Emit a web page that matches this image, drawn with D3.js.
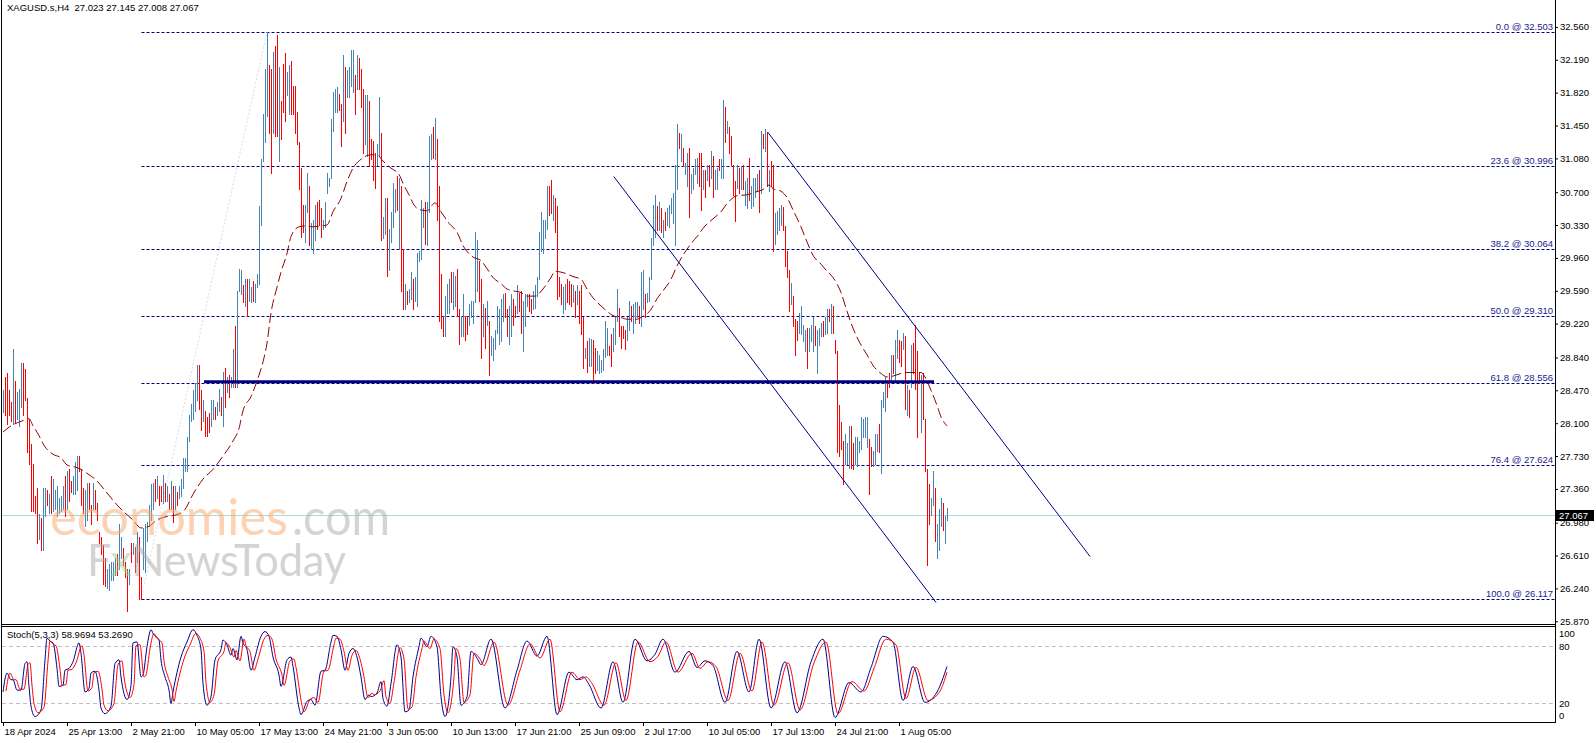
<!DOCTYPE html>
<html><head><meta charset="utf-8">
<script src="https://cdn.jsdelivr.net/npm/d3@7"></script>
<style>
html,body{margin:0;padding:0;background:#fff;}
svg{display:block;}
</style></head><body>
<svg id="c" width="1596" height="743"></svg>
<script>
// ---------------- DATA ----------------
const symbolHeader = "XAGUSD.s,H4  27.023 27.145 27.008 27.067";
const stochTitle = "Stoch(5,3,3) 58.9694 53.2690";
const lastPrice = 27.067;

const highs = [
28.47,28.62,28.66,28.47,28.34,28.93,28.57,28.45,28.49,28.78,
28.78,28.71,28.38,28.15,27.86,27.64,27.28,27.37,27.08,27.03,
27.37,27.37,27.35,27.30,27.50,27.47,27.35,27.39,27.26,27.28,
27.39,27.50,27.56,27.58,27.45,27.50,27.66,27.73,27.73,27.58,
27.37,27.35,27.43,27.43,27.18,27.43,27.35,27.20,26.88,26.82,
26.73,26.58,26.46,26.52,26.54,26.54,26.58,26.63,26.97,26.82,
26.69,26.54,26.46,26.46,26.75,26.75,26.71,26.88,26.82,26.37,
26.92,26.97,26.99,27.18,27.41,27.43,27.47,27.50,27.39,27.39,
27.52,27.43,27.39,27.30,27.45,27.39,27.39,27.33,27.39,27.47,
27.71,27.71,27.94,28.19,28.32,28.47,28.55,28.75,28.75,28.47,
28.36,28.24,28.17,28.21,28.36,28.36,28.28,28.34,28.49,28.40,
28.68,28.72,28.62,28.64,28.62,28.93,29.19,29.59,29.84,29.82,
29.65,29.72,29.72,29.72,29.63,29.70,29.67,29.78,30.54,31.07,
31.58,32.09,32.50,32.13,32.09,32.28,32.34,32.47,32.11,31.73,
32.14,32.27,32.05,32.13,32.18,31.90,31.90,31.60,31.26,30.97,
30.56,30.56,30.92,30.77,30.35,30.39,30.56,30.59,30.61,
30.52,30.39,30.59,30.92,30.86,31.52,31.83,31.86,31.88,31.81,
31.69,32.24,32.11,32.07,32.11,32.30,32.30,32.02,32.24,32.21,
32.09,31.86,31.79,31.79,31.73,31.30,31.28,31.14,31.24,31.77,
31.37,30.42,30.63,30.63,30.29,30.48,30.80,30.73,30.88,30.86,
30.77,30.06,29.67,29.59,29.61,29.80,29.72,29.74,30.01,30.04,
30.61,30.52,30.59,30.59,31.33,31.35,31.43,31.54,31.30,30.77,
29.78,29.31,29.53,29.67,29.72,29.80,29.80,29.76,29.84,29.38,
29.29,29.55,29.31,29.31,29.44,29.48,29.48,30.25,30.16,29.93,
29.72,29.44,29.40,29.48,29.25,29.08,29.06,29.15,29.42,29.38,
29.50,29.55,29.57,29.38,29.42,29.55,29.50,29.42,29.65,29.57,
29.59,29.48,29.55,29.55,29.55,29.50,29.59,29.65,29.74,30.25,
30.48,30.39,30.39,30.77,30.77,30.84,30.67,30.63,30.54,29.74,
29.67,29.63,29.67,29.72,29.70,29.67,29.65,29.59,29.65,29.59,
29.65,29.29,28.95,29.02,29.06,29.05,29.04,28.95,28.91,28.87,
28.81,28.93,29.25,29.17,28.97,29.10,29.17,29.31,29.61,29.40,
29.19,29.19,29.15,29.29,29.47,29.42,29.44,29.46,29.46,29.42,
29.80,29.82,29.55,29.57,29.74,30.18,30.56,30.67,30.54,30.59,
30.52,30.39,30.48,30.52,30.56,30.63,30.69,31.01,31.47,31.37,
31.35,31.20,31.03,31.14,31.20,30.90,30.97,31.07,31.09,31.14,
31.14,30.95,30.95,31.01,31.01,31.16,31.11,30.95,30.97,31.07,
31.07,31.74,31.66,31.50,31.43,31.33,31.01,30.82,31.01,30.97,
30.99,31.01,30.82,30.86,31.08,30.77,30.86,30.86,30.90,30.95,
31.39,31.35,31.41,31.38,30.95,31.05,31.01,30.46,30.49,30.52,
30.56,30.53,30.32,30.04,29.82,29.68,29.53,29.27,29.25,29.34,
29.42,29.21,29.15,29.17,29.17,29.21,29.29,29.19,29.15,29.17,
29.23,29.25,29.29,29.38,29.38,29.44,29.42,29.04,28.91,28.30,
28.11,27.90,27.98,27.88,28.07,28.07,27.88,27.94,27.94,27.90,
28.17,28.15,28.17,28.17,27.92,27.83,27.79,27.98,27.98,28.09,
28.36,28.45,28.62,28.57,28.66,28.87,28.87,29.04,29.15,29.04,
29.02,29.12,29.08,28.53,28.47,28.98,29.00,29.21,28.91,28.68,
28.64,28.66,28.15,27.58,27.41,27.26,27.56,27.37,26.97,27.13,
27.26,27.20,27.05,27.145];

const lows = [
28.23,28.19,28.09,28.19,28.13,28.09,28.11,28.15,28.07,28.28,
28.19,28.36,27.77,27.64,27.11,27.11,27.09,26.75,26.80,26.67,
26.67,27.05,27.18,27.09,27.09,27.11,27.13,27.05,27.09,27.11,
27.13,27.05,27.13,27.22,27.33,27.30,27.30,27.35,27.56,27.18,
27.09,26.94,27.01,27.13,26.97,27.13,27.13,27.01,26.75,26.63,
26.29,26.27,26.25,26.22,26.33,26.33,26.39,26.39,26.46,26.58,
26.50,26.37,25.99,26.29,26.54,26.63,26.42,26.54,26.12,26.12,
26.46,26.42,26.77,26.94,27.01,27.13,27.22,27.26,27.18,27.22,
27.20,27.22,27.22,27.13,27.13,26.99,27.13,27.18,27.26,27.28,
27.37,27.56,27.56,27.90,28.13,28.15,28.24,28.36,28.26,28.02,
28.13,27.96,27.96,28.00,28.07,28.15,28.15,28.19,28.24,28.19,
28.07,28.28,28.45,28.40,28.51,28.51,28.51,28.51,29.59,29.55,
29.46,29.42,29.31,29.48,29.46,29.48,29.46,29.63,29.67,30.33,
31.05,31.26,31.56,31.37,30.92,31.37,31.33,31.33,31.05,31.30,
31.60,31.50,31.79,31.58,31.58,31.58,31.37,31.24,30.73,30.20,
30.25,30.14,30.48,30.10,30.06,30.01,30.16,30.29,30.33,
30.20,30.29,30.31,30.69,30.77,30.86,31.39,31.60,31.60,31.62,
31.22,31.50,31.37,31.77,31.77,31.90,31.83,31.58,31.86,31.86,
31.66,31.14,31.24,31.11,30.99,31.07,30.84,30.75,31.01,31.11,
30.16,30.18,30.23,29.76,29.82,30.14,30.31,30.48,30.50,30.06,
29.59,29.38,29.38,29.44,29.46,29.50,29.38,29.48,29.42,29.93,
29.95,30.31,30.12,30.10,30.48,31.07,31.09,31.07,30.39,29.25,
29.17,29.08,29.08,29.34,29.34,29.46,29.38,29.42,29.31,28.99,
29.08,29.08,29.04,29.10,29.21,29.29,29.23,29.46,29.59,29.48,
28.83,29.08,28.95,29.21,28.64,28.87,28.81,28.93,29.12,28.99,
29.02,29.25,29.29,29.08,28.99,29.08,29.21,29.29,29.34,29.36,
29.12,28.91,29.19,29.42,29.36,29.34,29.38,29.40,29.53,29.72,
30.04,30.01,30.18,30.29,30.44,30.46,30.39,30.25,29.50,29.53,
29.44,29.34,29.38,29.46,29.44,29.42,29.46,29.29,29.44,29.23,
29.10,28.72,28.83,28.68,28.74,28.74,28.55,28.66,28.70,28.66,
28.68,28.70,28.85,28.87,28.87,28.74,28.91,28.99,29.25,29.08,
28.95,29.06,28.93,29.04,29.15,29.25,29.12,29.23,29.29,29.23,
29.19,29.38,29.29,29.46,29.48,29.72,30.10,30.20,30.27,30.27,
30.25,30.20,30.27,30.33,30.31,30.46,30.35,30.10,30.73,31.20,
31.05,30.99,30.90,30.77,30.42,30.69,30.73,30.90,30.80,30.77,
30.50,30.73,30.65,30.84,30.77,30.86,30.65,30.73,30.73,30.95,
30.86,30.86,31.26,31.37,31.14,31.01,30.67,30.37,30.75,30.69,
30.73,30.73,30.56,30.52,30.61,30.52,30.54,30.65,30.71,30.48,
30.69,31.20,31.16,30.77,30.71,30.77,30.04,30.12,30.23,30.27,
30.33,30.27,29.87,29.74,29.36,29.44,29.19,28.87,29.04,29.12,
29.10,29.02,28.91,28.72,28.91,29.02,28.91,28.98,28.66,28.98,
29.08,29.08,29.10,29.12,29.25,29.12,29.12,28.89,27.77,27.73,
27.81,27.41,27.64,27.64,27.60,27.60,27.58,27.64,27.62,27.77,
27.81,27.94,27.94,27.83,27.30,27.62,27.62,27.64,27.79,27.77,
27.54,28.28,28.24,28.40,28.51,28.57,28.66,28.57,28.83,28.79,
28.74,28.93,28.26,28.19,28.17,28.51,28.66,28.49,27.94,28.55,
28.00,28.15,27.56,26.50,26.97,27.07,27.18,26.77,26.58,26.67,
26.94,26.90,26.75,27.008];

// 1 = bullish bar (blue), 0 = bearish bar (red)
const ups = [
1,0,0,0,0,1,0,1,1,1, 0,0,0,0,0,0,0,0,1,0, 1,1,0,1,0,1,1,1,1,1, 1,0,1,0,0,1,1,1,0,0,
0,1,1,0,0,1,0,0,0,0, 0,0,1,1,1,1,1,0,1,1, 0,0,0,1,0,1,0,1,0,0, 1,1,1,1,1,1,0,1,0,0,
1,0,1,0,1,0,1,0,1,1, 1,1,1,1,1,1,1,1,0,0, 1,0,0,0,1,1,0,1,1,0, 1,0,1,0,1,1,0,1,1,1,
0,1,0,1,1,0,1,1,1,1, 1,1,1,0,0,1,0,0,1,0, 0,0,1,1,0,0,0,0,0,0, 0,1,1,0,1,1,1,0,0,
0,1,1,1,1,1,1,1,1,0, 0,1,0,1,1,1,1,0,1,0, 0,0,1,1,0,0,0,0,1,1, 0,1,1,0,1,1,1,1,0,1,
0,0,1,0,1,1,0,1,1,1, 1,1,0,1,1,1,0,1,0,0, 0,0,1,1,1,0,1,1,0,0, 1,1,0,0,1,1,1,1,1,0,
0,1,0,1,0,1,1,1,1,1, 1,1,0,0,1,1,0,0,1,0, 0,1,1,1,0,0,1,1,1,1, 1,1,1,1,0,0,1,0,0,0,
0,1,1,0,0,0,1,0,1,0, 0,0,1,0,1,1,0,0,1,1, 1,1,1,1,0,0,1,1,1,0, 0,0,0,1,1,0,1,1,1,0,
1,1,0,1,1,1,1,1,0,1, 0,1,0,1,1,1,1,1,1,0, 1,0,1,1,0,1,1,1,1,0, 0,1,0,1,0,1,0,1,1,0,
1,1,0,1,0,0,0,0,1,0, 1,0,1,1,0,1,1,1,1,0, 1,0,1,0,1,0,0,1,1,1, 1,0,0,0,0,1,0,0,0,1,
1,1,1,0,1,1,1,0,1,1, 1,0,1,1,0,1,0,0,0,0, 0,0,1,1,1,0,0,1,1,1, 1,1,1,1,0,0,1,1,1,0,
1,1,1,0,0,1,0,1,1,0, 0,1,0,1,0,1,0,0,0,0, 1,0,0,0,0,1,1,0,1,1, 1,0,1,1];

// Moving average (bar index, price)
const maBars = [0,4,9,13,15,18,20,25,29,32,37,39,43,47,50,54,57,60,65,69,73,77,82,87,91,95,100,105,110,115,118,120,124,128,130,132,134,137,139,142,144,148,151,155,159,162,165,169,172,175,179,184,187,190,194,198,200,203,206,209,212,216,219,223,227,230,235,239,242,245,249,252,255,259,262,266,270,274,276,279,282,285,289,292,295,299,302,305,309,312,317,319,324,327,330,334,337,340,344,347,351,355,359,362,367,372,376,380,383,385,389,392,395,399,402,405,409,412,415,419,422,425,429,432,435,439,442,445,449,452,455,459,461,464,467,469,472];
const maValues = [28.00,28.07,28.12,28.15,28.07,27.96,27.87,27.75,27.71,27.63,27.60,27.58,27.52,27.45,27.37,27.26,27.18,27.11,27.01,26.92,26.94,27.01,27.05,27.07,27.13,27.30,27.47,27.58,27.73,27.90,28.04,28.24,28.40,28.64,28.79,29.00,29.34,29.63,29.80,30.01,30.20,30.31,30.32,30.31,30.32,30.33,30.48,30.63,30.82,30.97,31.07,31.12,31.12,31.05,30.97,30.90,30.80,30.67,30.54,30.50,30.49,30.58,30.48,30.35,30.25,30.10,29.97,29.93,29.84,29.74,29.67,29.61,29.59,29.57,29.53,29.53,29.61,29.74,29.81,29.80,29.78,29.75,29.72,29.61,29.51,29.42,29.36,29.31,29.29,29.27,29.27,29.29,29.38,29.50,29.59,29.72,29.87,29.99,30.12,30.20,30.32,30.40,30.48,30.57,30.66,30.67,30.70,30.73,30.78,30.74,30.71,30.64,30.50,30.31,30.14,29.99,29.89,29.81,29.74,29.57,29.36,29.17,28.98,28.87,28.75,28.66,28.62,28.63,28.66,28.67,28.67,28.67,28.62,28.47,28.30,28.17,28.07];

// Stochastic (5,3,3) main line (%K, blue) (bar index, value)
const stochKBars = [0,2,4,5,7,9,11,12,13,14,16,19,21,22,24,25,27,28,30,31,33,35,38,39,41,43,44,46,48,49,51,54,56,58,59,62,64,65,67,69,70,72,74,75,78,79,81,83,84,85,89,92,95,97,99,100,102,104,106,109,110,112,114,115,117,119,120,122,124,126,129,131,133,135,138,139,142,144,145,148,149,152,154,156,159,161,164,165,167,169,171,173,175,177,179,181,183,184,187,189,190,192,194,197,199,201,203,205,208,209,212,214,217,219,221,224,225,227,229,232,234,237,239,
244,251,257,262,267,272,277,283,287,290,293,299,305,310,316,322,326,330,336,343,347,351,355,361,367,373,378,384,391,397,404,410,416,423,429,434,440,445,450,455,461,467,472];
const stochKValues = [32,52,45,45,34,34,62,64,38,17,6,13,66,89,85,84,57,38,39,55,57,64,84,73,32,36,52,54,34,15,9,17,62,66,48,24,39,84,85,48,50,80,98,94,87,66,48,34,20,32,69,85,98,92,77,41,18,27,66,77,87,82,71,78,66,91,84,77,55,69,91,96,91,69,50,38,66,69,59,15,8,22,24,18,54,55,85,92,91,77,55,73,78,69,48,24,29,27,31,43,25,17,41,82,69,11,13,48,80,89,80,91,80,27,6,48,80,69,18,27,75,68,61,
88,15,55,86,70,91,8,53,45,48,40,15,64,21,88,65,72,88,53,75,58,65,60,21,75,32,88,15,64,10,64,88,5,42,32,58,91,85,23,59,21,32,59];
// signal line (%D, red) (bar index, value)
const stochDBars = [1.5,3.5,5.5,6.5,8.5,10.5,12.5,13.5,14.5,15.5,17.5,20.5,22.5,23.5,25.5,26.5,28.5,29.5,31.5,32.5,34.5,36.5,39.5,40.5,42.5,44.5,45.5,47.5,49.5,50.5,52.5,55.5,57.5,59.5,60.5,63.5,65.5,66.5,68.5,70.5,71.5,73.5,75.5,76.5,79.5,80.5,82.5,84.5,85.5,86.5,90.5,93.5,96.5,98.5,100.5,101.5,103.5,105.5,107.5,110.5,111.5,113.5,115.5,116.5,118.5,120.5,121.5,123.5,125.5,127.5,130.5,132.5,134.5,136.5,139.5,140.5,143.5,145.5,146.5,149.5,150.5,153.5,155.5,157.5,160.5,162.5,165.5,166.5,168.5,170.5,172.5,174.5,176.5,178.5,180.5,182.5,184.5,185.5,188.5,190.5,191.5,193.5,195.5,198.5,200.5,202.5,204.5,206.5,209.5,210.5,213.5,215.5,218.5,220.5,222.5,225.5,226.5,228.5,230.5,233.5,235.5,238.5,240.5,
245.5,252.5,258.5,263.5,268.5,273.5,278.5,284.5,288.5,291.5,294.5,300.5,306.5,311.5,317.5,323.5,327.5,331.5,337.5,344.5,348.5,352.5,356.5,362.5,368.5,374.5,379.5,385.5,392.5,398.5,405.5,411.5,417.5,424.5,430.5,435.5,441.5,446.5,451.5,456.5,462.5,468.5,472];
const stochDValues = [33,52,45,45,35,35,61,63,39,20,10,16,65,86,82,81,56,39,40,55,56,63,81,71,33,37,52,54,35,18,12,20,61,65,48,26,40,81,82,48,50,78,94,90,84,65,48,35,22,33,67,82,94,89,75,42,21,29,65,75,84,79,69,76,65,88,81,75,55,67,88,92,88,67,50,39,65,67,58,18,11,24,26,21,54,55,82,89,88,75,55,71,76,67,48,26,31,29,33,44,27,20,42,79,67,14,16,48,78,86,78,88,78,29,10,48,78,67,21,29,73,67,60,
85,18,55,83,68,88,11,53,45,48,41,18,63,23,85,64,70,85,53,73,57,64,59,23,73,33,85,18,63,13,63,85,9,43,33,57,88,82,25,58,23,33,53];
const stochLevels = [20, 80];
const stochLabels = ["100", "80", "20", "0"];

const fibRatios = ["0.0", "23.6", "38.2", "50.0", "61.8", "76.4", "100.0"];
const fibPrices = [32.503, 30.996, 30.064, 29.310, 28.556, 27.624, 26.117];
const fibLowBar = 69, fibHighBar = 132;
const supportPrice = 28.565, supportFromBar = 100.5, supportToBar = 465.5;
const channelLowerBars = [305.4, 466.5], channelLowerPrices = [30.876, 26.083];
const channelUpperBars = [382.35, 543.6], channelUpperPrices = [31.376, 26.597];

const priceTicks = [32.560,32.190,31.820,31.450,31.080,30.700,30.330,29.960,29.590,29.220,28.840,28.470,28.100,27.730,27.360,26.980,26.610,26.240,25.870];
const timeTickBars = [0,32,64,96,128,160,192,224,256,288,320,352,384,416,448];
const timeTickLabels = ["18 Apr 2024","25 Apr 13:00","2 May 21:00","10 May 05:00","17 May 13:00","24 May 21:00","3 Jun 05:00","10 Jun 13:00","17 Jun 21:00","25 Jun 09:00","2 Jul 17:00","10 Jul 05:00","17 Jul 13:00","24 Jul 21:00","1 Aug 05:00"];

// ---------------- DRAW ----------------
const FONT = "'Liberation Sans', Arial, sans-serif";
const FS = 9.5;
const svg = d3.select("#c").style("font-family", FONT);
const defs = svg.append("defs");
defs.append("clipPath").attr("id","mainClip").append("rect").attr("x",2).attr("y",0).attr("width",1553).attr("height",624);
defs.append("clipPath").attr("id","stochClip").append("rect").attr("x",2).attr("y",627).attr("width",1553).attr("height",95);

const x = d3.scaleLinear().domain([0, 776]).range([3, 1555]);
const y = d3.scaleLinear().domain([25.87, 32.56]).range([621.3, 26.9]);
const ys = d3.scaleLinear().domain([0, 100]).range([722.2, 627.8]);
const px = i => Math.round(x(i)) + 0.5;
const py = v => Math.round(y(v)) + 0.5;

svg.append("rect").attr("width",1596).attr("height",743).attr("fill","#fff");

const main = svg.append("g").attr("clip-path","url(#mainClip)");

// current price line
main.append("line").attr("x1",2).attr("x2",1555).attr("y1",py(lastPrice)).attr("y2",py(lastPrice))
  .attr("stroke","#aadadf").attr("stroke-width",1);

// fibonacci trend line
main.append("line").attr("x1",x(fibLowBar)).attr("y1",y(fibPrices[6])).attr("x2",x(fibHighBar)).attr("y2",y(fibPrices[0]))
  .attr("stroke","#d9d9f3").attr("stroke-width",1).attr("stroke-dasharray","2,2");

// fibonacci levels
main.selectAll("line.fib").data(fibPrices).join("line").attr("class","fib")
  .attr("x1",px(fibLowBar)).attr("x2",1555).attr("y1",d=>py(d)).attr("y2",d=>py(d))
  .attr("stroke","#000080").attr("stroke-width",1).attr("stroke-dasharray","3,2");

// bars
main.selectAll("line.bar").data(highs).join("line").attr("class","bar")
  .attr("x1",(d,i)=>px(i)).attr("x2",(d,i)=>px(i))
  .attr("y1",d=>Math.round(y(d)))
  .attr("y2",(d,i)=>Math.round(y(lows[i]))+1)
  .attr("stroke",(d,i)=>ups[i] ? "#4682b4" : "#ff0000").attr("stroke-width",1);

// thick support line
main.append("line").attr("x1",x(supportFromBar)).attr("x2",x(supportToBar)).attr("y1",y(supportPrice)).attr("y2",y(supportPrice))
  .attr("stroke","#000080").attr("stroke-width",3);

// moving average
const maPts = maBars.map((b,i)=>[b, maValues[i]]);
main.append("path").datum(maPts)
  .attr("d", d3.line().x(d=>x(d[0])).y(d=>y(d[1])).curve(d3.curveMonotoneX))
  .attr("fill","none").attr("stroke","#8b0000").attr("stroke-width",1).attr("stroke-dasharray","10,4");

// channel lines
[[channelLowerBars, channelLowerPrices],[channelUpperBars, channelUpperPrices]].forEach(([bs,ps])=>{
  main.append("line").attr("x1",x(bs[0])).attr("y1",y(ps[0])).attr("x2",x(bs[1])).attr("y2",y(ps[1]))
    .attr("stroke","#00008b").attr("stroke-width",1);
});

// fib labels
svg.selectAll("text.fibl").data(fibPrices).join("text").attr("class","fibl")
  .attr("x",1553).attr("y",d=>Math.round(y(d))-2).attr("text-anchor","end")
  .attr("font-size",FS).attr("fill","#1a1a8c")
  .text((d,i)=>fibRatios[i] + " @ " + d.toFixed(3));

// watermark
const wm = svg.append("g").attr("pointer-events","none");
wm.append("text").attr("x",50).attr("y",535).attr("font-family","Lato, 'Open Sans', sans-serif").attr("font-size",50)
  .attr("textLength",238).attr("lengthAdjust","spacingAndGlyphs").attr("fill","#f9a666").attr("fill-opacity",0.5).text("economies");
wm.append("text").attr("x",292).attr("y",535).attr("font-family","Lato, 'Open Sans', sans-serif").attr("font-size",50)
  .attr("textLength",98).attr("lengthAdjust","spacingAndGlyphs").attr("fill","#aaaaaa").attr("fill-opacity",0.5).text(".com");
const fx = wm.append("text").attr("x",87).attr("y",576).attr("font-family","Lato, 'Open Sans', sans-serif").attr("font-size",44)
  .attr("textLength",259).attr("lengthAdjust","spacingAndGlyphs").attr("fill-opacity",0.5);
fx.append("tspan").attr("fill","#a8a8a8").text("F");
fx.append("tspan").attr("fill","#8fcf8f").text("x");
fx.append("tspan").attr("fill","#a8a8a8").text("NewsToday");

// ---- Stochastic panel ----
const st = svg.append("g").attr("clip-path","url(#stochClip)");
st.selectAll("line.lvl").data(stochLevels).join("line").attr("class","lvl")
  .attr("x1",2).attr("x2",1555).attr("y1",d=>Math.floor(ys(d))+0.5).attr("y2",d=>Math.floor(ys(d))+0.5)
  .attr("stroke","#c0c0c0").attr("stroke-width",1).attr("stroke-dasharray","4,3");
const sLine = d3.line().x(d=>x(d[0])).y(d=>ys(d[1])).curve(d3.curveMonotoneX);
st.append("path").datum(stochKBars.map((b,i)=>[b, stochKValues[i]])).attr("d", sLine)
  .attr("fill","none").attr("stroke","#00008b").attr("stroke-width",1);
st.append("path").datum(stochDBars.map((b,i)=>[b, stochDValues[i]])).attr("d", sLine)
  .attr("fill","none").attr("stroke","#ff0000").attr("stroke-width",1);

// ---- frames ----
const fr = svg.append("g").attr("stroke","#000").attr("stroke-width",1);
fr.append("line").attr("x1",1.5).attr("x2",1.5).attr("y1",0).attr("y2",723);
fr.append("line").attr("x1",1555.5).attr("x2",1555.5).attr("y1",0).attr("y2",723);
fr.append("line").attr("x1",1.5).attr("x2",1555.5).attr("y1",624.5).attr("y2",624.5);
fr.append("line").attr("x1",1.5).attr("x2",1555.5).attr("y1",626.5).attr("y2",626.5);
fr.append("line").attr("x1",1.5).attr("x2",1555.5).attr("y1",722.5).attr("y2",722.5);

// ---- price axis ----
const gy = svg.append("g").attr("transform","translate(1555,0)")
  .call(d3.axisRight(y).tickValues(priceTicks).tickFormat(d3.format(".3f")).tickSize(3).tickPadding(2).tickSizeOuter(0));
gy.select(".domain").remove();
gy.attr("font-family",FONT).attr("font-size",FS);
gy.selectAll("line").attr("stroke","#000");
gy.selectAll("text").attr("fill","#000");

// last price marker
const lpY = Math.round(y(lastPrice));
svg.append("rect").attr("x",1556).attr("y",lpY-5).attr("width",38).attr("height",11).attr("fill","#000");
svg.append("text").attr("x",1559).attr("y",lpY+4).attr("font-size",FS).attr("fill","#fff").text(lastPrice.toFixed(3));

// stoch axis labels
const stochLabelY = [ys(100)+5.5, ys(80), ys(20), ys(0)-7];
svg.selectAll("text.sl").data(stochLabels).join("text").attr("class","sl")
  .attr("x",1559).attr("y",(d,i)=>stochLabelY[i]).attr("dy","0.35em")
  .attr("font-size",FS).attr("fill","#000").text(d=>d);

// ---- time axis ----
const gx = svg.append("g").attr("transform","translate(0,722)")
  .call(d3.axisBottom(x).tickValues(timeTickBars).tickFormat((d,i)=>timeTickLabels[i]).tickSize(4).tickSizeOuter(0));
gx.select(".domain").remove();
gx.attr("font-family",FONT).attr("font-size",FS);
gx.selectAll("line").attr("stroke","#000");
gx.selectAll("text").attr("fill","#000").attr("text-anchor","start").attr("x",1).attr("y",6);

// ---- titles ----
svg.append("text").attr("x",7).attr("y",11).attr("font-size",FS).attr("fill","#000").attr("xml:space","preserve").style("white-space","pre").text(symbolHeader);
svg.append("text").attr("x",7).attr("y",638).attr("font-size",FS).attr("fill","#000").text(stochTitle);
</script>
</body></html>
